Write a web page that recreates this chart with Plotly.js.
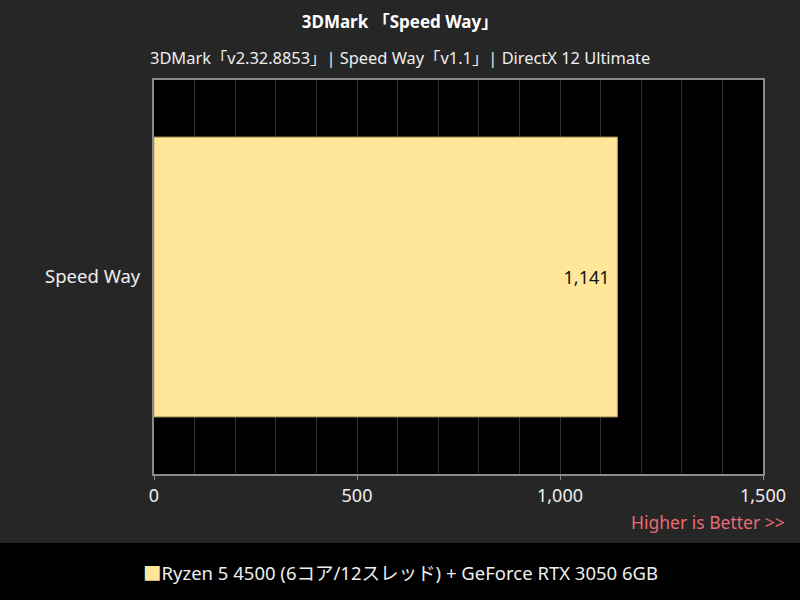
<!DOCTYPE html>
<html>
<head>
<meta charset="utf-8">
<script src="https://cdn.plot.ly/plotly-3.0.1.min.js"></script>
<style>
  html, body { margin: 0; padding: 0; background: #262626; }
  #chart { width: 800px; height: 600px; }
</style>
</head>
<body>
<div id="chart"></div>
<script>
// chart data
const categories = ['Speed Way'];
const scores = [1141];
const seriesName = 'Ryzen 5 4500 (6コア/12スレッド) + GeForce RTX 3050 6GB';
const tickValues = [0, 500, 1000, 1500];
const tickLabels = ['0', '500', '1,000', '1,500'];

const font = '"Noto Sans", "Noto Sans CJK JP", sans-serif';
const barColor = '#ffe699';

const trace = {
  type: 'bar', orientation: 'h',
  y: categories, x: scores,
  name: seriesName,
  width: 0.71,
  marker: { color: barColor, line: { color: '#c9b26f', width: 1 } },
  text: scores.map(v => v.toLocaleString('en-US') + '\u00a0'),
  textposition: 'inside', insidetextanchor: 'end',
  textfont: { family: font, size: 18, color: '#111' },
  hoverinfo: 'none',
  showlegend: false
};

const layout = {
  width: 800, height: 600,
  paper_bgcolor: '#262626', plot_bgcolor: '#000',
  font: { family: font, color: '#eeeeee', size: 16 },
  margin: { l: 154, r: 37, t: 80, b: 126 },
  title: { text: '<b>3DMark 「Speed Way」</b>', x: 0.5, xanchor: 'center', y: 0.963, yanchor: 'middle',
           font: { family: font, size: 17, color: '#fff' } },
  xaxis: {
    range: [0, 1500], tickvals: tickValues, ticktext: tickLabels,
    showgrid: true, gridcolor: '#2e2e2e', gridwidth: 1,
    minor: { dtick: 100, showgrid: true, gridcolor: '#2e2e2e', gridwidth: 1 },
    showline: true, linecolor: '#8a8a8a', linewidth: 2, mirror: true,
    ticks: 'outside', ticklen: 4, tickcolor: '#8a8a8a',
    zeroline: false, tickfont: { size: 18, color: '#eee' }
  },
  yaxis: {
    range: [-0.5, 0.5], showgrid: false, zeroline: false,
    showline: true, linecolor: '#8a8a8a', linewidth: 2, mirror: true,
    ticks: '', ticklen: 0, ticklabelstandoff: 8, tickfont: { size: 18.5, color: '#eee' }
  },
  showlegend: false,
  shapes: [
    { type: 'rect', xref: 'paper', yref: 'paper', x0: -0.26, x1: 1.07, y0: -0.1751, y1: -0.33,
      fillcolor: '#000', line: { width: 0 }, layer: 'below' }
  ],
  annotations: [
    { text: '3DMark「v2.32.8853」| Speed Way「v1.1」| DirectX 12 Ultimate', xref: 'paper', yref: 'paper',
      x: 0.404, y: 1.0, yshift: 23, xanchor: 'center', yanchor: 'middle', showarrow: false,
      font: { size: 16.4, color: '#eee' } },
    { text: 'Higher is Better >>', xref: 'paper', yref: 'paper', x: 1.0394, y: -0.122,
      xanchor: 'right', yanchor: 'middle', showarrow: false, font: { size: 17.5, color: '#ea6b73' } },
    { text: '<span style="color:' + barColor + '">■</span>' + seriesName, xref: 'paper', yref: 'paper',
      x: 0.404, y: -0.249, xanchor: 'center', yanchor: 'middle', showarrow: false,
      font: { size: 18.5, color: '#eee' } }
  ],
  bargap: 0
};

Plotly.newPlot('chart', [trace], layout, { displayModeBar: false, staticPlot: true });
</script>
</body>
</html>
